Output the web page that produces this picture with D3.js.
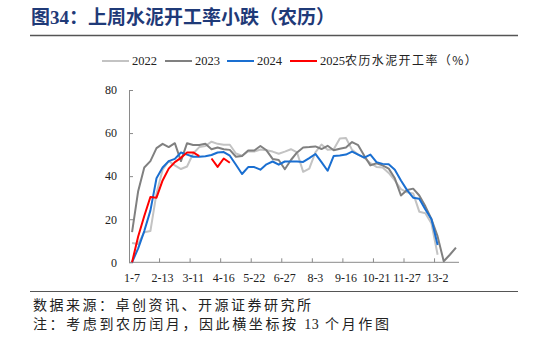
<!DOCTYPE html>
<html>
<head>
<meta charset="utf-8">
<script src="https://cdn.jsdelivr.net/npm/d3@7/dist/d3.min.js"></script>
<style>
  html, body { margin: 0; padding: 0; background: #fff; }
  svg { display: block; }
</style>
</head>
<body>
<svg id="chart" width="546" height="342"></svg>
<script>
// Lunar-calendar weeks: 54 weekly slots spanning 13 lunar months
const weekCount = 54;
const weeks = Array.from({ length: weekCount }, (_, i) => i);
// Labelled weeks (every 5th slot)
const tickWeeks = [0, 5, 10, 15, 20, 25, 30, 35, 40, 45, 50];
const tickLabels = ["1-7", "2-13", "3-11", "4-16", "5-22", "6-27", "8-3", "9-16", "10-21", "11-27", "13-2"];
const yTicks = [0, 20, 40, 60, 80];

// Cement operating rate (%) by lunar week
const rate2022 = [9, 8.5, 14, 14.5, 32, 43, 47, 45, 43.3, 44.5,
  50.5, 53.5, 54, 56, 55, 54.6, 54.6, 50.5, 49.5, 51.6,
  51.4, 52.4, 52, 51.4, 50.4, 51.4, 52.5, 51, 42, 43.5,
  51, 54.7, 52.3, 52.5, 57.5, 57.7, 52.2, 50, 48.5, 46,
  44.3, 44, 41.5, 38, 34, 32.5, 32, 23.5, 22.8, 18,
  3.5, null, null, null];
const rate2023 = [14, 33, 44, 47, 53, 55, 53.5, 55.3, 47, 55.3,
  54.5, 54.5, 55, 52.5, 53.3, 52.5, 52.2, 49, 49.4, 51.9,
  51.9, 54, 52, 48, 47.5, 43.2, 47.5, 51, 53.3, 53.5,
  53.8, 52.6, 54.1, 52, 52.7, 53.3, 55.8, 54.4, 49.5, 45,
  46, 45, 43.5, 39, 31, 33.6, 34.2, 31, 26, 20,
  12, 0.5, 3.5, 6.8];
const rate2024 = [0, 6.5, 14.5, 24, 39, 44, 47, 48, 51, 50,
  49, 49, 49.2, 49.8, 51, 51.2, 49.5, 45.3, 41, 44.2,
  44.2, 43, 45.5, 46.8, 45.3, 46.8, 46.8, 46.8, 46.6, 48.4,
  50.3, 46.5, 42.5, 49.4, 49.6, 50, 51.4, 50, 48.6, 50,
  46.5, 45.7, 45.5, 43, 38, 33.5, 30, 29.5, 24.5, 20,
  8, null, null, null];
const rate2025 = [0, 12, 21.5, 30.3, 30, 38, 43.5, 46.5, 48.5, 51,
  51, 49.3, null, 48.2, 44.3, 48.2, 46.2, null, null, null,
  null, null, null, null, null, null, null, null, null, null,
  null, null, null, null, null, null, null, null, null, null,
  null, null, null, null, null, null, null, null, null, null,
  null, null, null, null];

const seriesNames = ["2022", "2023", "2024", "2025"];
const seriesColors = ["#c3c3c3", "#808080", "#1a6fd1", "#ff0000"];
const seriesValues = [rate2022, rate2023, rate2024, rate2025];

const svg = d3.select("#chart");
const cjk = "'Noto Sans CJK SC', 'Noto Sans', sans-serif";
const serif = "'Liberation Serif', 'DejaVu Serif', serif";

svg.append("rect").attr("width", 546).attr("height", 342).attr("fill", "#fff");

// Title
const title = svg.append("text")
  .attr("x", 31).attr("y", 24)
  .attr("fill", "#1f3a78")
  .attr("font-family", cjk)
  .attr("font-weight", "bold")
  .attr("font-size", 19);
title.append("tspan").text("图");
title.append("tspan").attr("font-family", serif).text("34");
title.append("tspan").text("：上周水泥开工率小跌（农历）");

svg.append("line")
  .attr("x1", 30).attr("x2", 518).attr("y1", 35.5).attr("y2", 35.5)
  .attr("stroke", "#555").attr("stroke-width", 1.3);

// Scales
const x = d3.scaleBand().domain(weeks).range([129, 459]).paddingInner(0).paddingOuter(0);
const cx = i => x(i) + x.bandwidth() / 2;
const y = d3.scaleLinear().domain([0, 80]).range([262.3, 90]);

// Y axis
const yAxis = svg.append("g")
  .attr("transform", "translate(129,0)")
  .call(d3.axisLeft(y).tickValues(yTicks).tickSize(-4).tickSizeOuter(0).tickPadding(12));
yAxis.select(".domain").attr("stroke", "#8a8a8a");
yAxis.selectAll(".tick line").attr("stroke", "#8a8a8a");
yAxis.selectAll(".tick text")
  .attr("font-family", serif).attr("font-size", 12).attr("fill", "#222");

// X axis
const xg = svg.append("g");
xg.append("line")
  .attr("x1", x.range()[0]).attr("x2", x.range()[1])
  .attr("y1", y(0)).attr("y2", y(0))
  .attr("stroke", "#8a8a8a");
xg.selectAll("line.tk").data(tickWeeks.filter(d => d > 0)).join("line")
  .attr("class", "tk")
  .attr("x1", d => x(d)).attr("x2", d => x(d))
  .attr("y1", y(0)).attr("y2", y(0) - 4)
  .attr("stroke", "#8a8a8a");
xg.selectAll("text").data(tickWeeks).join("text")
  .attr("x", d => cx(d))
  .attr("y", 282)
  .attr("text-anchor", "middle")
  .attr("font-family", serif).attr("font-size", 12).attr("fill", "#222")
  .text((d, i) => tickLabels[i]);

// Lines
const line = d3.line()
  .defined(d => d != null)
  .x((d, i) => cx(i))
  .y(d => y(d));

svg.append("g").selectAll("path").data(seriesValues).join("path")
  .attr("d", d => line(d))
  .attr("fill", "none")
  .attr("stroke", (d, i) => seriesColors[i])
  .attr("stroke-width", 2)
  .attr("stroke-linejoin", "round");

// Legend
const legendX = [102, 165, 227, 290];
const lg = svg.append("g");
seriesNames.forEach((name, i) => {
  lg.append("line")
    .attr("x1", legendX[i]).attr("x2", legendX[i] + 27)
    .attr("y1", 61).attr("y2", 61)
    .attr("stroke", seriesColors[i]).attr("stroke-width", 2);
  const t = lg.append("text")
    .attr("x", legendX[i] + 30).attr("y", 65)
    .attr("font-family", serif).attr("font-size", 12.5).attr("fill", "#222")
    .text(name);
  if (i === 3) {
    t.append("tspan").attr("font-family", cjk).attr("font-size", 12)
      .attr("letter-spacing", 1.4).text("农历水泥开工率（%）");
  }
});

// Source and note
svg.append("line")
  .attr("x1", 30).attr("x2", 518).attr("y1", 291.5).attr("y2", 291.5)
  .attr("stroke", "#555").attr("stroke-width", 1.2);

svg.append("text")
  .attr("x", 33).attr("y", 310)
  .attr("font-family", cjk).attr("font-size", 14).attr("letter-spacing", 2.5)
  .attr("fill", "#222")
  .text("数据来源：卓创资讯、开源证券研究所");

const note = svg.append("text")
  .attr("x", 33).attr("y", 329)
  .attr("font-family", cjk).attr("font-size", 14).attr("letter-spacing", 2.6)
  .attr("fill", "#222");
note.append("tspan").text("注：考虑到农历闰月，因此横坐标按 ");
note.append("tspan").attr("font-family", serif).attr("letter-spacing", 0.5).text("13");
note.append("tspan").text(" 个月作图");
</script>
</body>
</html>
